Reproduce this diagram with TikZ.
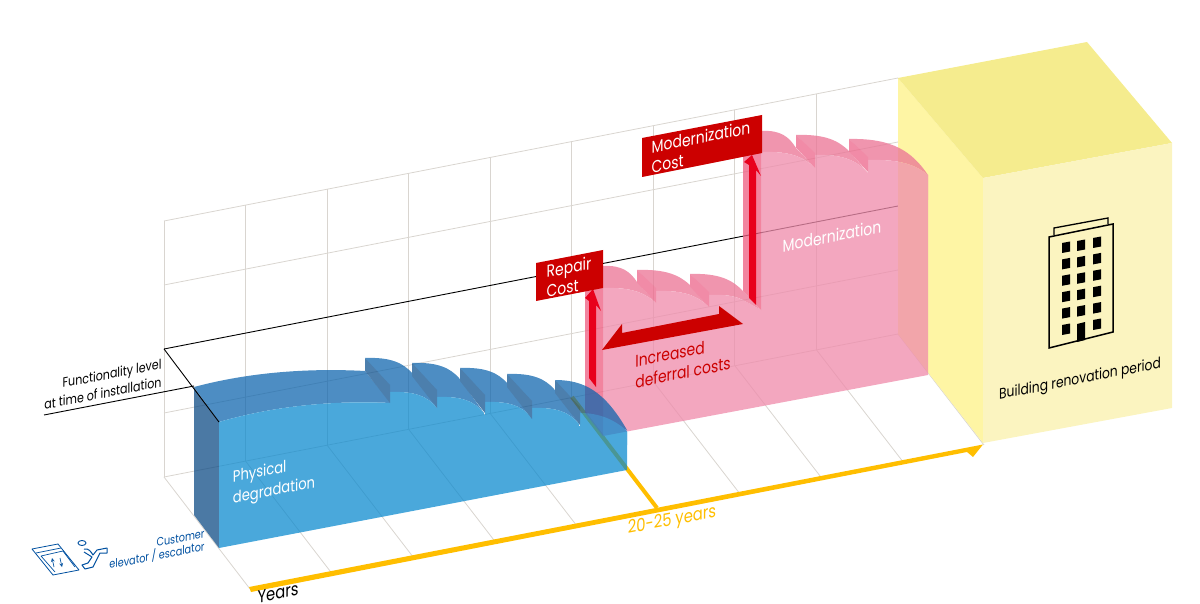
\documentclass[tikz,border=0pt]{standalone}
\usepackage{fontspec}
\setmainfont[FakeStretch=0.82]{Poppins}
\usetikzlibrary{calc}
\definecolor{gridgray}{RGB}{217,213,208}
\definecolor{yearyellow}{RGB}{255,190,0}
\definecolor{costred}{RGB}{204,0,0}
\definecolor{arrowred}{RGB}{232,0,28}
\definecolor{custblue}{RGB}{0,80,160}
\definecolor{bluefront}{RGB}{7,136,206}
\definecolor{bluetop}{RGB}{11,99,173}
\definecolor{blueside}{RGB}{8,71,130}
\definecolor{pinkfront}{RGB}{239,141,172}
\definecolor{pinktop}{RGB}{235,117,150}
\definecolor{pinkwall}{RGB}{237,104,140}
\definecolor{pinkside}{RGB}{238,95,130}
\definecolor{yellowside}{RGB}{254,245,164}
\definecolor{yellowtop}{RGB}{245,236,142}
\definecolor{yellowfront}{RGB}{251,244,192}
\tikzset{
	gridline/.style={draw=gridgray,line width=0.8pt},
	label/.style={yslant=0.195,inner sep=0pt,font=\fontsize{#1}{#1}\selectfont},
	label/.default=15,
}
\begin{document}
\begin{tikzpicture}[x=1pt,y=-1pt]
		\useasboundingbox (0,0) rectangle (1200,604);
		\foreach \k in {0,...,9} {
			\draw[gridline] ({164+81.55*\k},{221-15.9*\k}) -- ({164+81.55*\k},{477-15.9*\k});
			\draw[gridline] ({164+81.55*\k},{477-15.9*\k}) -- ({250+81.55*\k},{589-16*\k});
		}
		\foreach \y in {221,285,413,477}
			\draw[gridline] (164,\y) -- (898,\y-143);
		\draw[black,line width=0.9pt] (164,349) -- (898,206);
		\draw[black,line width=0.9pt] (44,415) -- (194,386);
		\fill[yellowside] (898,78) -- (983,178) -- (983,443) -- (898,334) -- cycle;
		\fill[yellowtop] (898,78) -- (1087,42) -- (1172,143) -- (983,178) -- cycle;
		\fill[yellowfront] (983,178) -- (1172,143) -- (1172,408) -- (983,443) -- cycle;
		\draw[yearyellow,line width=4pt] (572,397) -- (657,508);
		\fill[yearyellow] (249,587) -- (983,444.5) -- (973,457) -- (967,452) -- (251,592) -- cycle;
		\begin{scope}[transparency group,opacity=0.77]
			\fill[pinkfront] (603,288) -- (656,303) -- (709,307) -- (743,300) -- (761,310) -- (761,152) -- (815,168) -- (868,173) -- (928,175) -- (928,375) -- (603,436) -- cycle;
			\foreach \xa/\ya/\xb/\yb/\xc/\yc/\xd/\yd/\xe/\ye in {
				603/266/637/282/603/288/656/303/656/303,
				637/270/690/285/656/291/709/307/709/307,
				690/274/743/291/709/295/743/300/761/310,
				762/131/796/148/762/152/815/168/815/168,
				796/135/849/151/815/155/868/173/868/173,
				849/139/928/175/868/160/928/175/928/175} {
				\fill[pinktop] (\xa,\ya) .. controls ({\xa+0.55*(\xb-\xa)},{\ya-1}) and ({\xa+0.8*(\xb-\xa)},{\ya+0.35*(\yb-\ya)}) .. (\xb,\yb) -- (\xe,\ye) -- (\xd,\yd) .. controls ({\xc+0.8*(\xd-\xc)},{\yc+0.35*(\yd-\yc)}) and ({\xc+0.55*(\xd-\xc)},{\yc-1}) .. (\xc,\yc) -- cycle;
				\fill[pinkfront] (\xc,\yc) .. controls ({\xc+0.55*(\xd-\xc)},{\yc-1}) and ({\xc+0.8*(\xd-\xc)},{\yc+0.35*(\yd-\yc)}) .. (\xd,\yd) -- (\xd,\yd+25) -- (\xc,\yc+25) -- cycle;
			}
			\foreach \x/\y in {637/270,690/274,796/135,849/139}
				\fill[pinkwall] (\x,\y) -- ({\x+19},{\y+18}) -- ({\x+19},{\y+33}) -- (\x,\y+12.5) -- cycle;
			\fill[pinkside] (585,280) -- (603,288) -- (603,436) -- (585,413) -- cycle;
			\fill[pinkside] (743,150) -- (761,152) -- (761,310) -- (743,291) -- cycle;
		\end{scope}
		\fill[arrowred] (589,378) -- (596,387) -- (596,305) -- (601,311) -- (593,289) -- (585,298) -- (589,301) -- cycle;
		\fill[arrowred] (749,298) -- (756,305) -- (756,170) -- (761,176) -- (752,155) -- (744,162) -- (749,165) -- cycle;
		\fill[costred] (602,350) -- (622,324) -- (622,333) -- (719,314) -- (719,306) -- (743,324) -- cycle;
		\begin{scope}[transparency group,opacity=0.73]
			\fill[bluetop] (194,387) .. controls (250,372) and (310,368) .. (365,371) -- (391,403) .. controls (330,400) and (270,407) .. (219,422) -- cycle;
			\fill[blueside] (194,387) -- (219,422) -- (219,548) -- (194,515) -- cycle;
			\fill[bluefront] (219,422) .. controls (270,407) and (330,400) .. (391,403) -- (627,432) -- (627,470) -- (219,548) -- cycle;
			\foreach \x/\y in {365/358,412/363,460/368,507/374}
				\fill[bluetop] (\x,\y) .. controls ({\x+26},{\y-1}) and ({\x+38},{\y+5}) .. ({\x+47},{\y+15}) -- ({\x+72},{\y+50}) .. controls ({\x+63},{\y+39}) and ({\x+51},{\y+33}) .. ({\x+25},{\y+34}) -- cycle;
			\fill[bluetop] (555,380) .. controls (585,380) and (605,392) .. (627,430) -- (580,413) -- cycle;
			\foreach \x/\y in {365/358,412/363,460/368,507/374}
				\fill[bluefront] ({\x+25},{\y+34}) .. controls ({\x+51},{\y+33}) and ({\x+63},{\y+39}) .. ({\x+72},{\y+50}) -- ({\x+72},{\y+70}) -- ({\x+25},{\y+70}) -- cycle;
			\fill[bluefront] (580,413) .. controls (600,413) and (615,420) .. (627,431) -- (627,445) -- (580,445) -- cycle;
			\foreach \x/\y in {365/358,412/363,460/368,507/374,555/380}
				\fill[blueside!70!bluetop] (\x,\y) -- ({\x+25},{\y+27}) -- ({\x+25},{\y+45}) -- (\x,\y+13) -- cycle;
		\end{scope}
		\draw[black,line width=0.9pt] (164,349) -- (219,422);
		\fill[costred] (536,263) -- (603,250) -- (603,288) -- (536,301) -- cycle;
		\fill[costred] (642,138) -- (762,115) -- (762,153) -- (642,177) -- cycle;
		\draw[black,line width=1.5pt] (1049,237) -- (1113,224) -- (1113,332) -- (1049,348) -- cycle;
		\draw[black,line width=1.3pt] (1054,235) -- (1054,228) -- (1108,218) -- (1108,224);
		\foreach \r in {0,...,5} {
			\fill[black] (1062,243+16.4*\r) -- (1070,241.5+16.4*\r) -- (1070,251.5+16.4*\r) -- (1062,253+16.4*\r) -- cycle;
			\fill[black] (1093,238+16.4*\r) -- (1101,236.5+16.4*\r) -- (1101,246.5+16.4*\r) -- (1093,248+16.4*\r) -- cycle;
		}
		\foreach \r in {0,...,4}
			\fill[black] (1077,241+16.4*\r) -- (1085,239.5+16.4*\r) -- (1085,249.5+16.4*\r) -- (1077,251+16.4*\r) -- cycle;
		\fill[black] (1077,324) -- (1085,322) -- (1085,340) -- (1077,342) -- cycle;
		\draw[custblue,line width=0.8pt,line join=round] (32,549) -- (58,544) -- (79,570) -- (53,575) -- cycle;
		\draw[custblue,line width=0.7pt] (36,553) -- (61,548) (41,556) -- (63,551) -- (75,567) (41,556) -- (55,572);
		\draw[custblue,line width=0.7pt,->,>=stealth] (54,567) -- (52,558);
		\draw[custblue,line width=0.7pt,->,>=stealth] (60,558) -- (62,567);
		\draw[custblue,line width=0.9pt] (82,543) ellipse (4 and 2.5);
		\draw[custblue,line width=1pt,line join=round] (84,549) .. controls (89,548) and (91,552) .. (93,555) -- (97,550) -- (107,548) -- (107,553) -- (100,553) -- (93,567) -- (85,569) -- (82,565) -- (88,563) -- (92,557) -- (84,552);
		\node[label=13.5,align=right,font=\fontsize{13.5}{18}\selectfont] (functionLabel) at (103,384) {Functionality level\\at time of installation};
		\node[label=16,align=left,text=white,font=\fontsize{16}{21}\selectfont] (degradationLabel) at (274,481) {Physical\\degradation};
		\node[label=11,align=right,text=custblue,font=\fontsize{11.8}{13}\selectfont] (customerLabel) at (157,550) {Customer\\elevator / escalator};
		\node[label=18,text=black] (yearsLabel) at (278,593) {Years};
		\node[label=18,text=yearyellow] (periodLabel) at (672,521) {20-25 years};
		\node[label=17,align=left,text=costred,font=\fontsize{17}{21}\selectfont] (deferralLabel) at (683,362) {Increased\\deferral costs};
		\node[label=15,align=left,text=white,font=\fontsize{17}{20}\selectfont] (repairLabel) at (569,277) {Repair\\Cost};
		\node[label=15,align=left,text=white,font=\fontsize{17}{20}\selectfont] (modernCostLabel) at (701,147) {Modernization\\Cost};
		\node[label=17,text=white] (modernLabel) at (832,236) {Modernization};
		\node[label=15,text=black] (renovationLabel) at (1080,380) {Building renovation period};
	\end{tikzpicture}
\end{document}
